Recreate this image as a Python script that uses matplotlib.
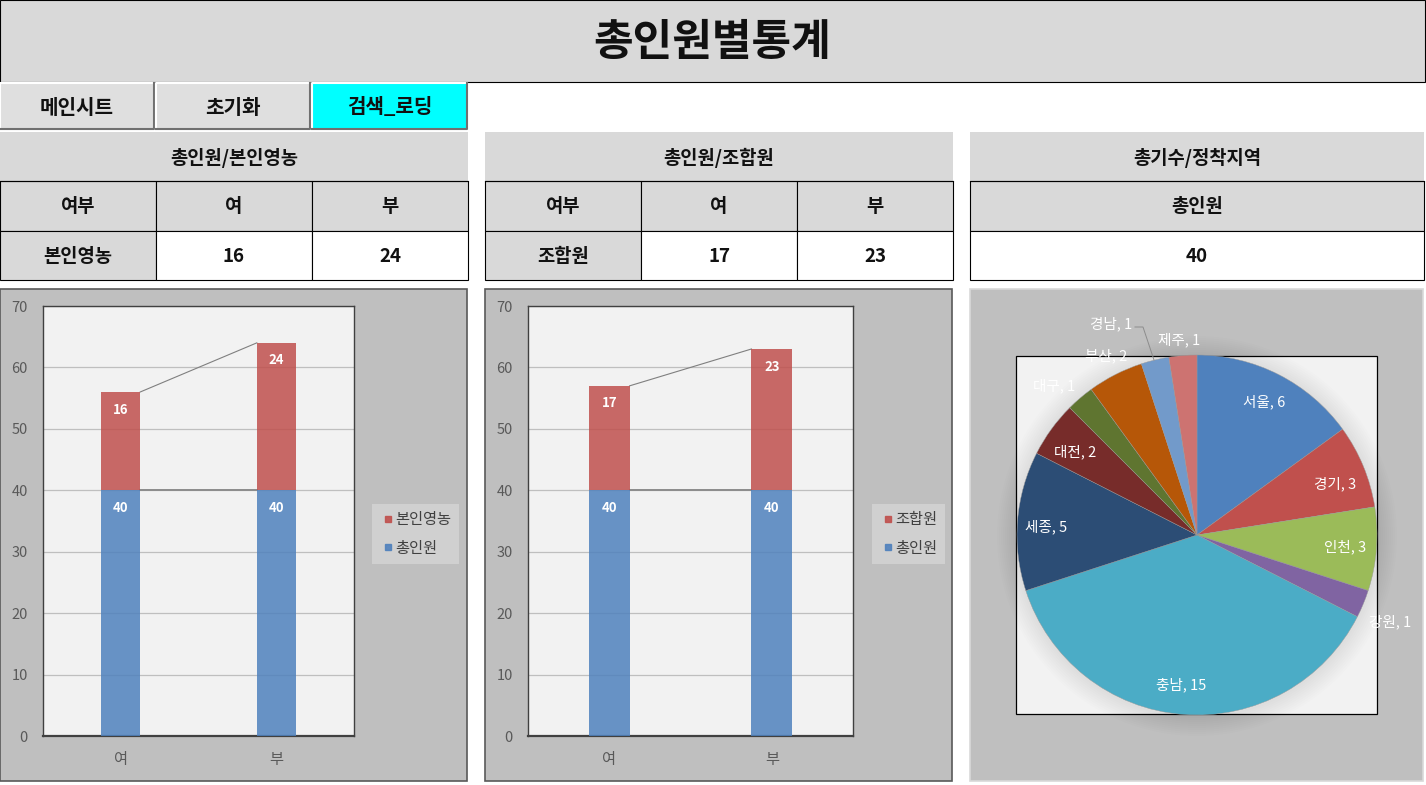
import matplotlib
matplotlib.use('Agg')
import matplotlib.pyplot as plt
from matplotlib.patches import Rectangle, Circle
from matplotlib.lines import Line2D

plt.rcParams['font.family'] = ['Noto Sans CJK KR', 'DejaVu Sans']

W, H = 1426, 785

# data
title = '총인원별통계'
buttons = ['메인시트', '초기화', '검색_로딩']
categories = ['여', '부']
total_people = [40, 40]
farming = [16, 24]
union = [17, 23]
regions = ['서울', '경기', '인천', '강원', '충남', '세종', '대전', '대구', '부산', '경남', '제주']
region_counts = [6, 3, 3, 1, 15, 5, 2, 1, 2, 1, 1]
y_ticks = [0, 10, 20, 30, 40, 50, 60, 70]

# colours
blue = '#4F81BD'
red = '#C0504D'
pie_colors = ['#4F81BD', '#C0504D', '#9BBB59', '#8064A2', '#4BACC6', '#2C4D75',
              '#772C2A', '#5F7530', '#B65708', '#729ACA', '#CD7371']
# where each pie label sits, in pixels
label_pos = [(1264, 401), (1335, 483), (1345, 546), (1390, 621), (1181, 684), (1046, 526),
             (1075, 451), (1054, 385), (1106, 355), (1111, 323), (1179, 339)]

fig = plt.figure(figsize=(W / 100, H / 100), dpi=100, facecolor='white')


def pixel_axes(z):
    a = fig.add_axes([0, 0, 1, 1], zorder=z)
    a.set_xlim(0, W)
    a.set_ylim(H, 0)
    a.axis('off')
    a.patch.set_alpha(0)
    return a


bg = pixel_axes(0)
top = pixel_axes(5)


def box(x0, y0, x1, y1, fc, ec='black', lw=0.8, z=1):
    bg.add_patch(Rectangle((x0, y0), x1 - x0, y1 - y0, fc=fc, ec=ec, lw=lw, zorder=z))


def cell(x0, y0, x1, y1, text, fc='#D9D9D9', size=13.5, ec='black'):
    box(x0, y0, x1, y1, fc, ec=ec)
    bg.text((x0 + x1) / 2, (y0 + y1) / 2 + 1, text, ha='center', va='center',
            fontsize=size, fontweight='bold', color='#111111', zorder=3)


# title bar
cell(0, 0, 1425, 82, title, size=31)

# buttons
btn_x = [(0, 154), (156, 310), (312, 467)]
for (x0, x1), name in zip(btn_x, buttons):
    fc = '#00FFFF' if name == '검색_로딩' else '#DFDFDF'
    box(x0, 83, x1, 130, fc, ec='none')
    bg.plot([x0, x0, x1], [130, 83, 83], color='white', lw=1.5, zorder=2)
    bg.plot([x0, x1, x1], [129, 129, 83], color='#707070', lw=1.5, zorder=2)
    bg.text((x0 + x1) / 2, 107, name, ha='center', va='center', fontsize=14.5,
            fontweight='bold', color='#111111', zorder=3)

# tables
def small_table(x, head, row_name, vals):
    c = [x, x + 156, x + 312, x + 468]
    cell(c[0], 132, c[3], 181, head, ec='none')
    bg.plot([c[0], c[3]], [181, 181], color='black', lw=0.8, zorder=4)
    for i, t in enumerate(['여부'] + categories):
        cell(c[i], 181, c[i + 1], 231, t)
    cell(c[0], 231, c[1], 280, row_name)
    cell(c[1], 231, c[2], 280, str(vals[0]), fc='white')
    cell(c[2], 231, c[3], 280, str(vals[1]), fc='white')


small_table(0, '총인원/본인영농', '본인영농', farming)
small_table(485, '총인원/조합원', '조합원', union)
cell(970, 132, 1424, 181, '총기수/정착지역', ec='none')
bg.plot([970, 1424], [181, 181], color='black', lw=0.8, zorder=4)
cell(970, 181, 1424, 231, '총인원')
cell(970, 231, 1424, 280, str(sum(region_counts)), fc='white')


# stacked bar panels
def bar_panel(px, py, series_name, vals, leg_x):
    box(px[0] - 43, 289, px[0] + 424 if px[0] == 43 else 952, 781, '#BFBFBF', ec='#595959', lw=1.2)
    ax = fig.add_axes([px[0] / W, 1 - py[1] / H, (px[1] - px[0]) / W, (py[1] - py[0]) / H], zorder=2)
    ax.set_facecolor('#F2F2F2')
    x = range(len(categories))
    w = 0.25
    ax.bar(x, total_people, w, color=blue, alpha=0.85, zorder=3, lw=0)
    ax.bar(x, vals, w, bottom=total_people, color=red, alpha=0.85, zorder=3, lw=0)
    # series line between stacks
    ax.plot([w / 2, 1 - w / 2], [total_people[0] + vals[0], total_people[1] + vals[1]],
            color='#7F7F7F', lw=0.8, zorder=2)
    ax.plot([w / 2, 1 - w / 2], total_people, color='#8C8C8C', lw=1.4, zorder=2)
    for i in x:
        ax.annotate(str(total_people[i]), (i, total_people[i]), xytext=(0, -12.6),
                    textcoords='offset points', ha='center', va='center',
                    color='white', fontsize=9.5, fontweight='bold', zorder=4)
        ax.annotate(str(vals[i]), (i, total_people[i] + vals[i]), xytext=(0, -12.6),
                    textcoords='offset points', ha='center', va='center',
                    color='white', fontsize=9.5, fontweight='bold', zorder=4)
    ax.set_xlim(-0.5, 1.5)
    ax.set_ylim(0, 70)
    ax.set_yticks(y_ticks)
    ax.set_xticks(list(x))
    ax.set_xticklabels(categories)
    ax.tick_params(axis='y', length=0, labelsize=10.5, colors='#595959', pad=11)
    ax.tick_params(axis='x', length=0, labelsize=11, colors='#595959', pad=11)
    ax.grid(axis='y', color='#BFBFBF', lw=0.9, zorder=1)
    for s in ax.spines.values():
        s.set_color('#404040')
        s.set_linewidth(1.0)
    ax.spines['bottom'].set_linewidth(1.6)
    handles = [Line2D([], [], ls='', marker='s', ms=5, color=red, alpha=0.9),
               Line2D([], [], ls='', marker='s', ms=5, color=blue, alpha=0.9)]
    leg = ax.legend(handles, [series_name, '총인원'], loc='center left',
                    bbox_to_anchor=(leg_x / W, 1 - 534 / H), bbox_transform=fig.transFigure,
                    frameon=True, facecolor='#D0D0D0', edgecolor='none', framealpha=1,
                    fancybox=False, fontsize=11, labelcolor='#404040', borderaxespad=0,
                    handletextpad=-0.1, labelspacing=0.75, borderpad=0.45, handlelength=1.2)
    leg.set_zorder(6)
    return ax


bar_panel((43, 354), (306, 736), '본인영농', farming, 372)
bar_panel((528, 853), (306, 736), '조합원', union, 872)

# pie panel
box(970, 289, 1423, 781, '#BFBFBF', ec='#D9D9D9', lw=1.2)
box(1016, 356, 1377, 714, '#F2F2F2', ec='black', lw=0.9, z=2)
for r in range(200, 180, -2):
    bg.add_patch(Circle((1197, 536), r, fc='black', ec='none', alpha=0.008, zorder=3))

pie_ax = fig.add_axes([1017 / W, 1 - 715 / H, 360 / W, 360 / H], zorder=2)
pie_ax.pie(region_counts, colors=pie_colors, startangle=90, counterclock=False,
           radius=1, wedgeprops={'lw': 0.3, 'edgecolor': '#999999'})
pie_ax.set_xlim(-1, 1)
pie_ax.set_ylim(-1, 1)
pie_ax.patch.set_alpha(0)

for name, n, (lx, ly) in zip(regions, region_counts, label_pos):
    top.text(lx, ly + 1, f'{name}, {n}', ha='center', va='center', color='white',
             fontsize=10.5, fontweight='medium')
# leader line for the small slice
top.plot([1135, 1143, 1154], [327, 327, 360], color='#8C8C8C', lw=0.7)

fig.savefig('out.png', dpi=100, facecolor='white')
